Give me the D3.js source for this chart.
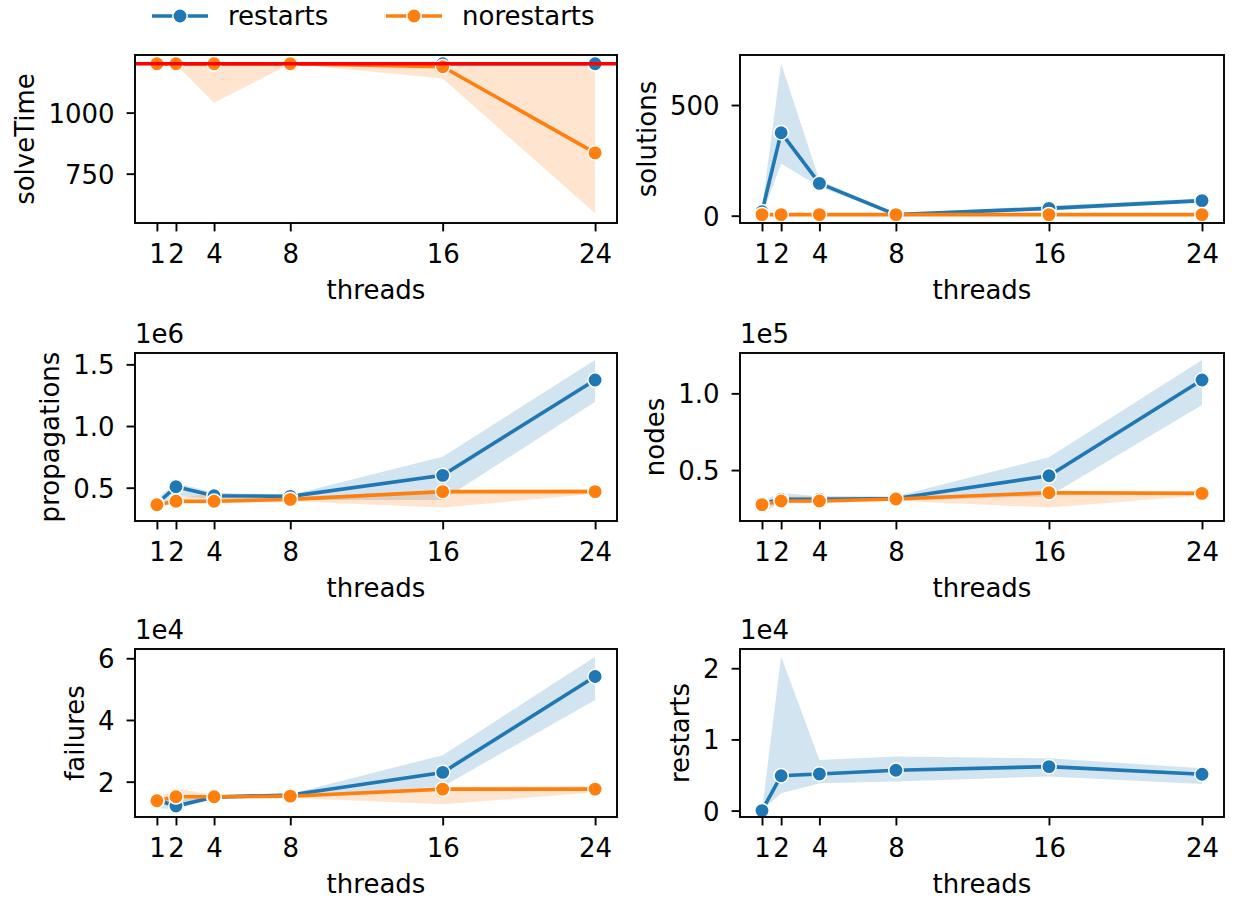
<!DOCTYPE html>
<html>
<head>
<meta charset="utf-8">
<script src="https://cdn.jsdelivr.net/npm/d3@7"></script>
<style>
  body { margin: 0; background: #fff; }
  svg text { font-family: 'DejaVu Sans', sans-serif; fill: #000; }
</style>
</head>
<body>
<div id="main"><svg width="1236" height="901"></svg></div>
<script>
// data
var threads = [1, 2, 4, 8, 16, 24]
var seriesNames = ['restarts', 'norestarts']

var solveTimeRestarts = [1200, 1200, 1200, 1200, 1200, 1200]
var solveTimeRestartsLo = [1200, 1200, 1200, 1200, 1196, 1196]
var solveTimeRestartsHi = [1200, 1200, 1200, 1200, 1200, 1200]
var solveTimeNoRestarts = [1200, 1200, 1200, 1200, 1188, 835]
var solveTimeNoRestartsLo = [1200, 1196, 1040, 1200, 1140, 588]
var solveTimeNoRestartsHi = [1200, 1200, 1200, 1200, 1200, 1200]
var timeLimit = 1200

var solutionsRestarts = [18, 375, 146, 5, 33, 68]
var solutionsRestartsLo = [2, 236, 131, 0, 22, 60]
var solutionsRestartsHi = [34, 688, 160, 10, 45, 78]
var solutionsNoRestarts = [5, 5, 5, 5, 5, 5]
var solutionsNoRestartsLo = [4, 4, 4, 4, 4, 4]
var solutionsNoRestartsHi = [6, 6, 6, 6, 6, 6]

var propagationsRestarts = [370000, 508000, 435000, 430000, 600000, 1373000]
var propagationsRestartsLo = [330000, 430000, 410000, 400000, 400000, 1197000]
var propagationsRestartsHi = [410000, 540000, 460000, 440000, 750000, 1535000]
var propagationsNoRestarts = [362000, 390000, 390000, 405000, 468000, 468000]
var propagationsNoRestartsLo = [340000, 370000, 370000, 390000, 340000, 450000]
var propagationsNoRestartsHi = [380000, 410000, 460000, 420000, 480000, 490000]

var nodesRestarts = [28000, 31000, 31000, 31500, 46300, 108700]
var nodesRestartsLo = [22000, 29000, 29500, 30000, 33000, 92400]
var nodesRestartsHi = [30000, 35000, 33000, 33000, 58300, 121700]
var nodesNoRestarts = [27500, 29800, 29800, 31100, 35200, 34800]
var nodesNoRestartsLo = [26000, 28000, 28500, 30000, 25600, 33500]
var nodesNoRestartsHi = [29000, 33000, 33000, 32000, 36500, 36000]

var failuresRestarts = [14050, 12100, 15000, 15700, 23000, 54100]
var failuresRestartsLo = [11500, 11000, 14500, 15300, 18400, 46500]
var failuresRestartsHi = [15500, 14000, 15500, 16000, 28600, 60500]
var failuresNoRestarts = [13800, 15100, 15100, 15300, 17600, 17600]
var failuresNoRestartsLo = [12800, 13500, 14500, 14800, 12700, 16500]
var failuresNoRestartsHi = [14500, 17800, 15800, 15800, 18200, 18500]

var restartsRestarts = [0, 4900, 5150, 5670, 6180, 5100]
var restartsRestartsLo = [0, 2440, 3850, 4100, 4800, 3750]
var restartsRestartsHi = [0, 21640, 7100, 7600, 7350, 5950]

// y axis extents and ticks per panel
var solveTimeDomain = [548, 1236]
var solutionsDomain = [-33, 726]
var propagationsDomain = [230000, 1592000]
var nodesDomain = [16800, 126300]
var failuresDomain = [8550, 63000]
var restartsDomain = [-900, 22700]

var solveTimeTicks = [750, 1000]
var solutionsTicks = [0, 500]
var propagationsTicks = [500000, 1000000, 1500000]
var nodesTicks = [50000, 100000]
var failuresTicks = [20000, 40000, 60000]
var restartsTicks = [0, 10000, 20000]

var config = {
  cols: [[135, 617], [740, 1224]],
  rows: [[55, 223], [353, 521], [649, 817]],
  font: 26,
  tickLen: 8.4,
  lineWidth: 3.6,
  markerR: 7.2,
  colors: ['#1f77b4', '#ff7f0e']
}

var svg = d3.select('#main svg')

function series (v, lo, hi) {
  if (!v) return null
  return threads.map((t, i) => ({ t: t, v: v[i], lo: lo[i], hi: hi[i] }))
}

var panels = [
  { name: 'solveTime', row: 0, col: 0, domain: solveTimeDomain, ticks: solveTimeTicks, exp: 0, hline: timeLimit,
    data: [series(solveTimeRestarts, solveTimeRestartsLo, solveTimeRestartsHi), series(solveTimeNoRestarts, solveTimeNoRestartsLo, solveTimeNoRestartsHi)] },
  { name: 'solutions', row: 0, col: 1, domain: solutionsDomain, ticks: solutionsTicks, exp: 0,
    data: [series(solutionsRestarts, solutionsRestartsLo, solutionsRestartsHi), series(solutionsNoRestarts, solutionsNoRestartsLo, solutionsNoRestartsHi)] },
  { name: 'propagations', row: 1, col: 0, domain: propagationsDomain, ticks: propagationsTicks, exp: 6,
    data: [series(propagationsRestarts, propagationsRestartsLo, propagationsRestartsHi), series(propagationsNoRestarts, propagationsNoRestartsLo, propagationsNoRestartsHi)] },
  { name: 'nodes', row: 1, col: 1, domain: nodesDomain, ticks: nodesTicks, exp: 5,
    data: [series(nodesRestarts, nodesRestartsLo, nodesRestartsHi), series(nodesNoRestarts, nodesNoRestartsLo, nodesNoRestartsHi)] },
  { name: 'failures', row: 2, col: 0, domain: failuresDomain, ticks: failuresTicks, exp: 4,
    data: [series(failuresRestarts, failuresRestartsLo, failuresRestartsHi), series(failuresNoRestarts, failuresNoRestartsLo, failuresNoRestartsHi)] },
  { name: 'restarts', row: 2, col: 1, domain: restartsDomain, ticks: restartsTicks, exp: 4,
    data: [series(restartsRestarts, restartsRestartsLo, restartsRestartsHi), null] }
]

function tickFormat (exp) {
  if (exp === 0) return d3.format('d')
  return d => {
    var s = d / Math.pow(10, exp)
    return Number.isInteger(s) && exp === 4 ? String(s) : s.toFixed(1)
  }
}

function renderPanel (p) {
  var xr = config.cols[p.col]
  var yr = config.rows[p.row]
  var x = d3.scaleLinear().domain([-0.15, 25.15]).range(xr)
  var y = d3.scaleLinear().domain(p.domain).range([yr[1], yr[0]])

  var g = svg.append('g').attr('class', 'panel')

  g.append('clipPath').attr('id', 'clip-' + p.name)
    .append('rect')
      .attr('x', xr[0]).attr('y', yr[0])
      .attr('width', xr[1] - xr[0]).attr('height', yr[1] - yr[0])

  var plot = g.append('g').attr('clip-path', `url(#clip-${p.name})`)

  var area = d3.area()
      .x(d => x(d.t))
      .y0(d => y(d.lo))
      .y1(d => y(d.hi))

  var line = d3.line()
      .x(d => x(d.t))
      .y(d => y(d.v))

  p.data.forEach((s, i) => {
    if (!s) return
    plot.append('path')
        .attr('d', area(s))
        .attr('fill', config.colors[i])
        .attr('fill-opacity', 0.2)
  })

  p.data.forEach((s, i) => {
    if (!s) return
    plot.append('path')
        .attr('d', line(s))
        .attr('fill', 'none')
        .attr('stroke', config.colors[i])
        .attr('stroke-width', config.lineWidth)
    plot.selectAll(null)
      .data(s)
      .enter()
      .append('circle')
        .attr('cx', d => x(d.t))
        .attr('cy', d => y(d.v))
        .attr('r', config.markerR)
        .attr('fill', config.colors[i])
        .attr('stroke', '#fff')
        .attr('stroke-width', 1.5)
  })

  if (p.hline !== undefined) {
    plot.append('line')
        .attr('x1', xr[0]).attr('x2', xr[1])
        .attr('y1', y(p.hline)).attr('y2', y(p.hline))
        .attr('stroke', 'red')
        .attr('stroke-width', config.lineWidth)
  }

  // x axis
  var xa = g.append('g')
      .attr('transform', `translate(0, ${yr[1]})`)
      .call(d3.axisBottom(x).tickValues(threads).tickSize(config.tickLen).tickFormat(d3.format('d')))
  // y axis
  var ya = g.append('g')
      .attr('transform', `translate(${xr[0]}, 0)`)
      .call(d3.axisLeft(y).tickValues(p.ticks).tickSize(config.tickLen).tickPadding(12).tickFormat(tickFormat(p.exp)))

  ;[xa, ya].forEach(a => {
    a.select('.domain').remove()
    a.selectAll('line').attr('stroke', '#000').attr('stroke-width', 1.9)
    a.selectAll('text').attr('font-size', config.font).attr('fill', '#000')
  })
  xa.selectAll('text').attr('dy', null).attr('y', 40)
  ya.selectAll('text').attr('dy', null).attr('y', 0.3645 * config.font)

  g.append('rect')
      .attr('x', xr[0]).attr('y', yr[0])
      .attr('width', xr[1] - xr[0]).attr('height', yr[1] - yr[0])
      .attr('fill', 'none')
      .attr('stroke', '#000')
      .attr('stroke-width', 1.9)

  g.append('text')
      .attr('x', (xr[0] + xr[1]) / 2)
      .attr('y', yr[1] + 76)
      .attr('text-anchor', 'middle')
      .attr('font-size', config.font)
      .text('threads')

  var maxW = d3.max(ya.selectAll('text').nodes(), n => n.getBBox().width)
  var right = xr[0] - config.tickLen - 12 - maxW - 8
  g.append('text')
      .attr('transform', `translate(${right - 6}, ${(yr[0] + yr[1]) / 2}) rotate(-90)`)
      .attr('text-anchor', 'middle')
      .attr('font-size', config.font)
      .text(p.name)

  if (p.exp) {
    g.append('text')
        .attr('x', xr[0])
        .attr('y', yr[0] - 10)
        .attr('font-size', config.font)
        .text('1e' + p.exp)
  }
}

panels.forEach(renderPanel)

function renderLegend () {
  var items = [{ x: 152, tx: 228 }, { x: 386, tx: 462 }]
  var lg = svg.append('g').attr('class', 'legend')
  items.forEach((it, i) => {
    lg.append('line')
        .attr('x1', it.x).attr('x2', it.x + 56)
        .attr('y1', 16).attr('y2', 16)
        .attr('stroke', config.colors[i])
        .attr('stroke-width', config.lineWidth)
    lg.append('circle')
        .attr('cx', it.x + 28).attr('cy', 16)
        .attr('r', config.markerR)
        .attr('fill', config.colors[i])
        .attr('stroke', '#fff')
        .attr('stroke-width', 1.5)
    lg.append('text')
        .attr('x', it.tx)
        .attr('y', 16 + 0.3645 * config.font)
        .attr('font-size', config.font)
        .text(seriesNames[i])
  })
}

renderLegend()
</script>
</body>
</html>
